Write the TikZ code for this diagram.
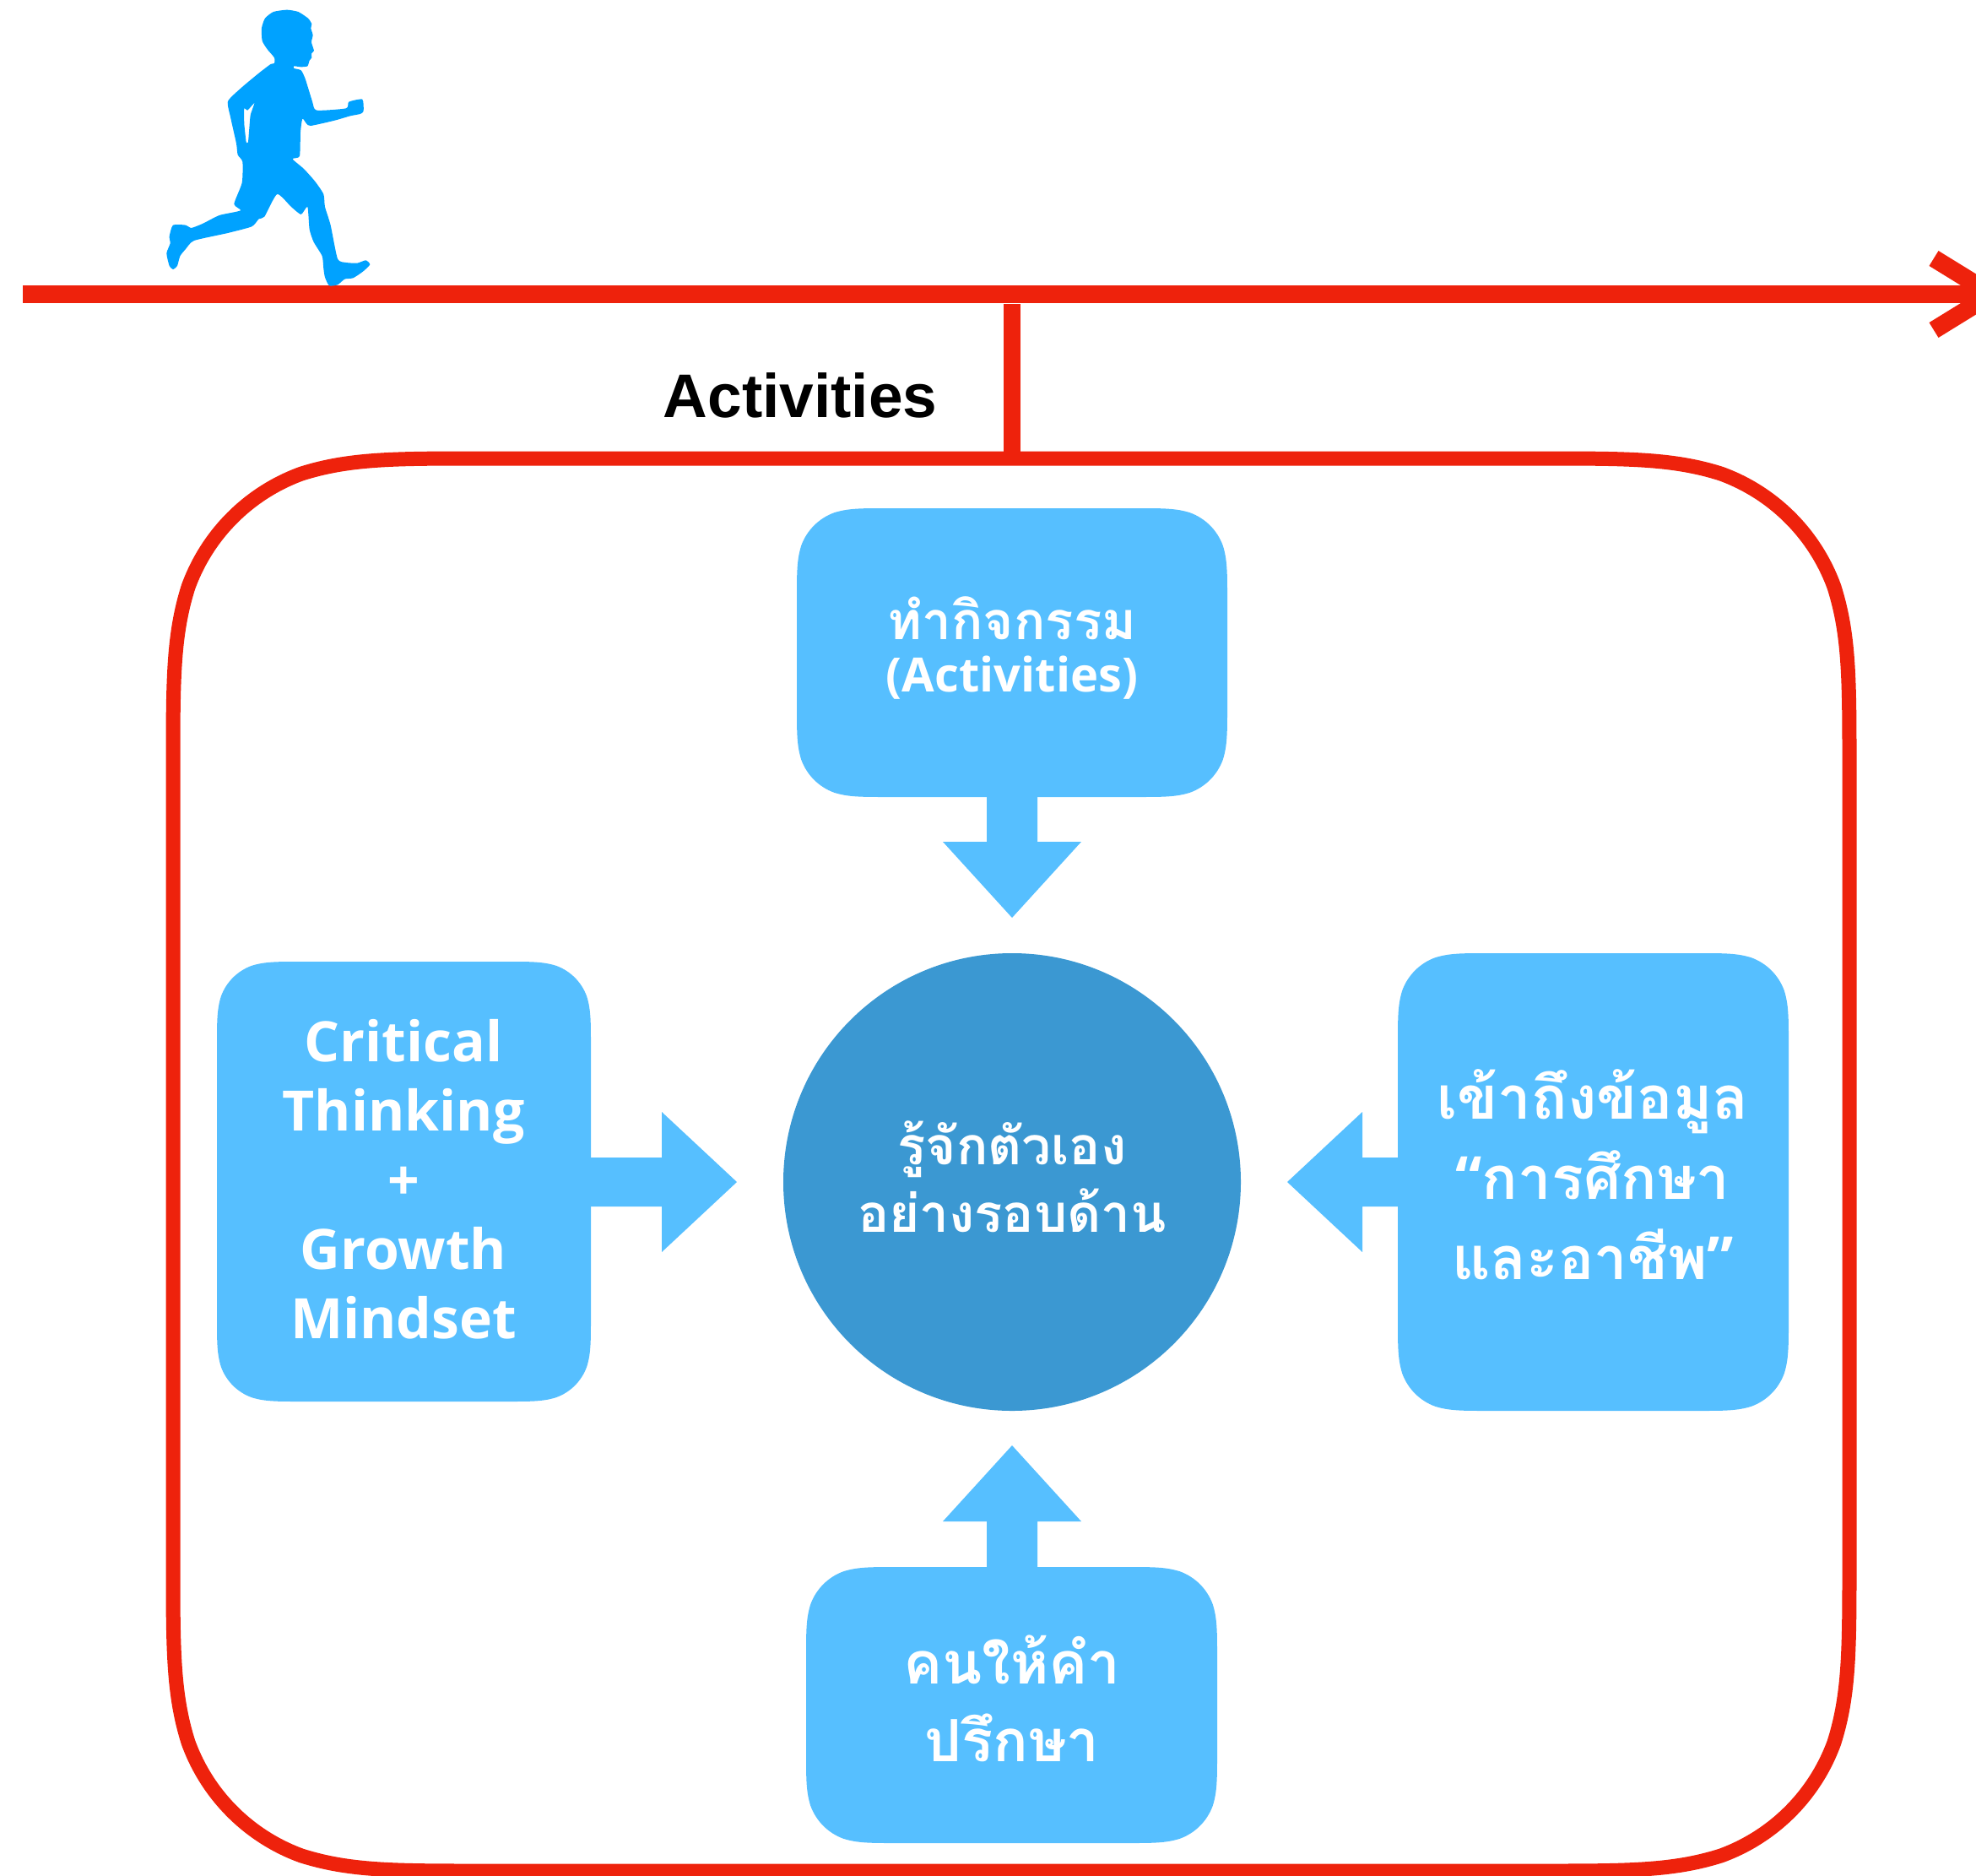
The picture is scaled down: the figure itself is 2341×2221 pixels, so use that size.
\documentclass[tikz,border=0pt]{standalone}
\usepackage{fontspec}
\setmainfont{Liberation Sans}
\newfontfamily\thaifont[Script=Thai]{Loma}
\newfontfamily\latfont{Open Sans}
\definecolor{redline}{HTML}{EE220C}
\definecolor{lightblue}{HTML}{56BFFF}
\definecolor{runblue}{HTML}{00A2FF}
\definecolor{darkblue}{HTML}{3B98D2}
\newcommand{\sqbox}[6]{% style x0 y0 x1 y1 r : continuous-corner rounded rectangle
  \pgfmathsetmacro{\qa}{1.528665*#6}\pgfmathsetmacro{\qb}{1.08849*#6}
  \pgfmathsetmacro{\qc}{0.86841*#6}\pgfmathsetmacro{\qd}{0.63149*#6}
  \pgfmathsetmacro{\qe}{0.07491*#6}\pgfmathsetmacro{\qf}{0.37282*#6}
  \pgfmathsetmacro{\qg}{0.16906*#6}
  \path[#1] ({#2+\qa},#3) -- ({#4-\qa},#3)
  .. controls ({#4-\qb},#3) and ({#4-\qc},#3) .. ({#4-\qd},{#3+\qe})
  .. controls ({#4-\qf},{#3+\qg}) and ({#4-\qg},{#3+\qf}) .. ({#4-\qe},{#3+\qd})
  .. controls (#4,{#3+\qc}) and (#4,{#3+\qb}) .. (#4,{#3+\qa})
  -- (#4,{#5-\qa})
  .. controls (#4,{#5-\qb}) and (#4,{#5-\qc}) .. ({#4-\qe},{#5-\qd})
  .. controls ({#4-\qg},{#5-\qf}) and ({#4-\qf},{#5-\qg}) .. ({#4-\qd},{#5-\qe})
  .. controls ({#4-\qc},#5) and ({#4-\qb},#5) .. ({#4-\qa},#5)
  -- ({#2+\qa},#5)
  .. controls ({#2+\qb},#5) and ({#2+\qc},#5) .. ({#2+\qd},{#5-\qe})
  .. controls ({#2+\qf},{#5-\qg}) and ({#2+\qg},{#5-\qf}) .. ({#2+\qe},{#5-\qd})
  .. controls (#2,{#5-\qc}) and (#2,{#5-\qb}) .. (#2,{#5-\qa})
  -- (#2,{#3+\qa})
  .. controls (#2,{#3+\qb}) and (#2,{#3+\qc}) .. ({#2+\qe},{#3+\qd})
  .. controls ({#2+\qg},{#3+\qf}) and ({#2+\qf},{#3+\qg}) .. ({#2+\qd},{#3+\qe})
  .. controls ({#2+\qc},#3) and ({#2+\qb},#3) .. ({#2+\qa},#3) -- cycle;}
\tikzset{
  redstroke/.style={draw=redline,line width=17pt},
  blockfill/.style={fill=lightblue,draw=none},
  labeltext/.style={text=white,align=center,inner sep=0pt},
}
\begin{document}
\begin{tikzpicture}[x=1pt,y=-1pt]
\useasboundingbox (0,0) rectangle (2341,2221);
\clip (0,0) rectangle (2341,2221);
% timeline
\coordinate (linestart) at (27,348.5);
\coordinate (lineend) at (2352,348.5);
\coordinate (headtop) at (2291,306);
\coordinate (headtip) at (2360,348.5);
\coordinate (headbot) at (2291,391);
\draw[redline,line width=21pt] (linestart) -- (lineend);
\draw[redline,line width=21pt,miter limit=10] (headtop) -- (headtip) -- (headbot);
% drop line and frame
\coordinate (dropa) at (1199,360);
\coordinate (dropb) at (1199,543);
\sqbox{redstroke}{205}{543}{2191}{2216}{241}
\draw[redline,line width=20pt] (dropa) -- (dropb);
\node[inner sep=0pt,font=\fontsize{73}{80}\selectfont\bfseries] (acttitle) at (948,468.5) {Activities};
% runner
\begin{scope}[shift={(170,0)},x=0.3333pt,y=-0.3333pt]
\fill[runblue,even odd rule]
 plot[smooth cycle,tension=0.35] coordinates {(465,225)(465,205)(440,175)(422,145)(420,100)(432,65)(462,42)(510,35)(550,42)(585,65)(598,85)(595,100)(602,125)(597,150)(606,180)(597,190)(598,205)(590,215)(583,235)(560,238)(535,235)(535,243)(560,250)(575,280)(600,360)(615,392)(720,385)(730,362)(778,353)(782,395)(770,405)(735,412)(680,428)(595,447)(580,440)(565,422)(558,470)(555,555)(530,565)(570,600)(610,645)(640,690)(645,735)(665,800)(690,920)(720,933)(760,935)(790,925)(805,940)(780,965)(745,988)(715,992)(690,1012)(660,1015)(645,985)(640,955)(635,910)(605,860)(590,815)(583,735)(560,762)(525,735)(475,690)(430,770)(410,778)(385,805)(300,828)(180,855)(150,885)(130,910)(120,945)(105,957)(92,945)(82,900)(95,865)(92,840)(105,800)(150,800)(170,810)(210,795)(270,765)(345,748)(322,725)(350,650)(352,575)(335,550)(330,510)(310,420)(300,360)(350,310)(410,260)(452,228)}
 plot[smooth cycle,tension=0.2] coordinates {(358,385)(370,392)(395,365)(380,410)(372,505)(365,505)(358,440)};
\end{scope}
% block arrows
\fill[blockfill] (1169,930) -- (1229,930) -- (1229,997) -- (1281,997) -- (1199,1087) -- (1117,997) -- (1169,997) -- cycle;
\fill[blockfill] (690,1371) -- (784,1371) -- (784,1317) -- (873,1400) -- (784,1483) -- (784,1429) -- (690,1429) -- cycle;
\fill[blockfill] (1670,1371) -- (1614,1371) -- (1614,1317) -- (1525,1400) -- (1614,1483) -- (1614,1429) -- (1670,1429) -- cycle;
\fill[blockfill] (1169,1870) -- (1229,1870) -- (1229,1802) -- (1281,1802) -- (1199,1712) -- (1117,1802) -- (1169,1802) -- cycle;
% boxes
\sqbox{blockfill}{944}{602}{1454}{944}{70}
\sqbox{blockfill}{257}{1139}{700}{1660}{65}
\sqbox{blockfill}{1656}{1129}{2119}{1671}{70}
\sqbox{blockfill}{955}{1856}{1442}{2183}{70}
% labels
\node[labeltext,font=\fontsize{62}{62}\selectfont\bfseries] (toplabel) at (1199,768) {{\thaifont ทำกิจกรรม}\\{\fontsize{56}{62}\selectfont\latfont (Activities)}};
\node[labeltext,font=\fontsize{66}{82}\selectfont\bfseries\latfont] (leftlabel) at (478,1397) {Critical\\Thinking\\+\\Growth\\Mindset};
\node[labeltext,font=\fontsize{70.5}{95}\selectfont\bfseries\thaifont] (rightlabel) at (1887,1391) {เข้าถึงข้อมูล\\{\latfont “}การศึกษา\\และอาชีพ{\latfont ”}};
\node[labeltext,font=\fontsize{69}{92}\selectfont\bfseries\thaifont] (bottomlabel) at (1199,2012) {คนให้คำ\\ปรึกษา};
\node[circle,fill=darkblue,minimum size=542pt,inner sep=0pt,text=white,align=center,font=\fontsize{62}{80}\selectfont\bfseries\thaifont] (center) at (1199,1400) {\raisebox{13pt}{รู้จักตัวเอง}\\\raisebox{13pt}{อย่างรอบด้าน}};
\end{tikzpicture}
\end{document}
